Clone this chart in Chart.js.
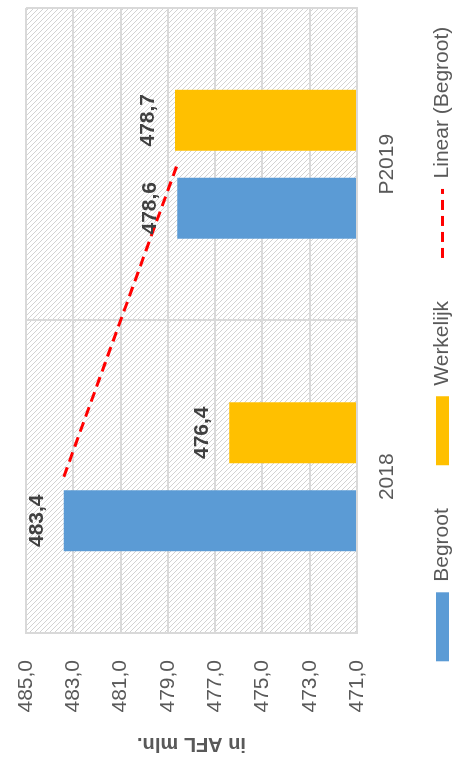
<!DOCTYPE html>
<html>
<head>
<meta charset="utf-8">
<script src="https://cdn.jsdelivr.net/npm/chart.js@4/dist/chart.umd.min.js"></script>
<style>
  html, body { margin: 0; padding: 0; background: #ffffff; overflow: hidden; }
  body { width: 461px; height: 762px; position: relative; }
  #wrap {
    position: absolute; left: 0; top: 0;
    width: 762px; height: 461px;
    transform-origin: 0 0;
    transform: translateY(762px) rotate(-90deg);
    background: #ffffff;
  }
  canvas { display: block; }
</style>
</head>
<body>
<div id="wrap"><canvas id="c" width="762" height="461"></canvas></div>
<script>
// ---- data ----
const categories = ['2018', 'P2019'];
const begroot = [483.4, 478.6];
const werkelijk = [476.4, 478.7];
const trendBegroot = [483.4, 478.6];
const valueTicks = [471, 473, 475, 477, 479, 481, 483, 485];
const seriesNames = ['Begroot', 'Werkelijk', 'Linear (Begroot)'];
const axisTitle = 'in AFL mln.';

const fmt = v => v.toFixed(1).replace('.', ',');

Chart.defaults.font.family = "'Liberation Sans', Arial, sans-serif";
Chart.defaults.color = '#595959';

const hatchPlugin = {
  id: 'hatch',
  beforeDraw(chart) {
    const ctx = chart.ctx;
    ctx.save();
    ctx.fillStyle = '#ffffff';
    ctx.fillRect(0, 0, chart.width, chart.height);
    const s = 5;
    const t = document.createElement('canvas');
    t.width = s; t.height = s;
    const tc = t.getContext('2d');
    tc.strokeStyle = '#d2d2d2';
    tc.lineWidth = 1;
    tc.beginPath();
    tc.moveTo(-1, -1); tc.lineTo(s + 1, s + 1);
    tc.moveTo(s - 1, -1); tc.lineTo(s + 1, 1);
    tc.moveTo(-1, s - 1); tc.lineTo(1, s + 1);
    tc.stroke();
    const a = chart.chartArea;
    ctx.fillStyle = ctx.createPattern(t, 'repeat');
    ctx.fillRect(a.left, a.top, a.right - a.left, a.bottom - a.top);
    ctx.restore();
  }
};

const legendShift = {
  id: 'legendShift',
  afterLayout(chart) {
    const lg = chart.legend;
    if (!lg) return;
    const dx = 41, dy = -18;
    lg.left += dx; lg.right += dx;
    lg.top += dy;
  }
};

const valueLabels = {
  id: 'valueLabels',
  afterDatasetsDraw(chart) {
    const ctx = chart.ctx;
    ctx.save();
    ctx.font = "bold 21px 'Liberation Sans', Arial, sans-serif";
    ctx.fillStyle = '#404040';
    ctx.textAlign = 'center';
    ctx.textBaseline = 'middle';
    chart.data.datasets.forEach((ds, di) => {
      if (ds.type === 'line') return;
      const meta = chart.getDatasetMeta(di);
      meta.data.forEach((el, i) => {
        ctx.fillText(fmt(ds.data[i]), el.x, el.y - 27);
      });
    });
    ctx.restore();
  }
};

new Chart(document.getElementById('c'), {
  type: 'bar',
  data: {
    labels: categories,
    datasets: [
      { label: seriesNames[0], data: begroot, backgroundColor: '#5b9bd5', base: valueTicks[0],
        categoryPercentage: 0.563, barPercentage: 0.693 },
      { label: seriesNames[1], data: werkelijk, backgroundColor: '#ffc000', base: valueTicks[0],
        categoryPercentage: 0.563, barPercentage: 0.693 },
      { type: 'line', label: seriesNames[2], data: trendBegroot, borderColor: '#ff0000',
        backgroundColor: '#ff0000', borderWidth: 3, borderDash: [10, 6], pointRadius: 0,
        pointHoverRadius: 0, fill: false, tension: 0 }
    ]
  },
  options: {
    responsive: false,
    animation: false,
    devicePixelRatio: 1,
    layout: { padding: { top: 26, right: 8, bottom: 0, left: 0 } },
    scales: {
      x: {
        grid: { color: '#d9d9d9', lineWidth: 2, drawTicks: false, offset: true },
        border: { color: '#d9d9d9', width: 2 },
        ticks: { color: '#595959', font: { size: 21 }, padding: 18 },
        afterFit(s) { s.height = 50; }
      },
      y: {
        min: valueTicks[0],
        max: valueTicks[valueTicks.length - 1],
        afterBuildTicks(s) { s.ticks = valueTicks.map(v => ({ value: v })); },
        grid: { color: '#d9d9d9', lineWidth: 2, drawTicks: true, tickLength: 25,
                tickColor: 'rgba(0,0,0,0)' },
        border: { color: '#d9d9d9', width: 2 },
        ticks: { color: '#595959', font: { size: 21 }, padding: 2, callback: v => fmt(v) },
        title: { display: true, text: axisTitle, color: '#595959',
                 font: { size: 20, weight: 'bold' }, padding: { top: 6, bottom: 0 } },
        afterFit(s) { s.width = 129; }
      }
    },
    plugins: {
      legend: {
        position: 'bottom',
        maxHeight: 54,
        labels: {
          color: '#595959',
          font: { size: 21 },
          usePointStyle: true,
          pointStyleWidth: 69,
          boxHeight: 13,
          padding: 43,
          generateLabels(chart) {
            const items = Chart.defaults.plugins.legend.labels.generateLabels(chart);
            items.forEach((it, i) => {
              if (i < 2) { it.pointStyle = 'rect'; it.lineWidth = 0; it.strokeStyle = 'rgba(0,0,0,0)'; }
              else { it.pointStyle = 'line'; it.lineWidth = 3; it.strokeStyle = '#ff0000'; it.lineDash = [10, 6]; }
            });
            return items;
          }
        }
      },
      tooltip: { enabled: false }
    }
  },
  plugins: [hatchPlugin, legendShift, valueLabels]
});
</script>
</body>
</html>
